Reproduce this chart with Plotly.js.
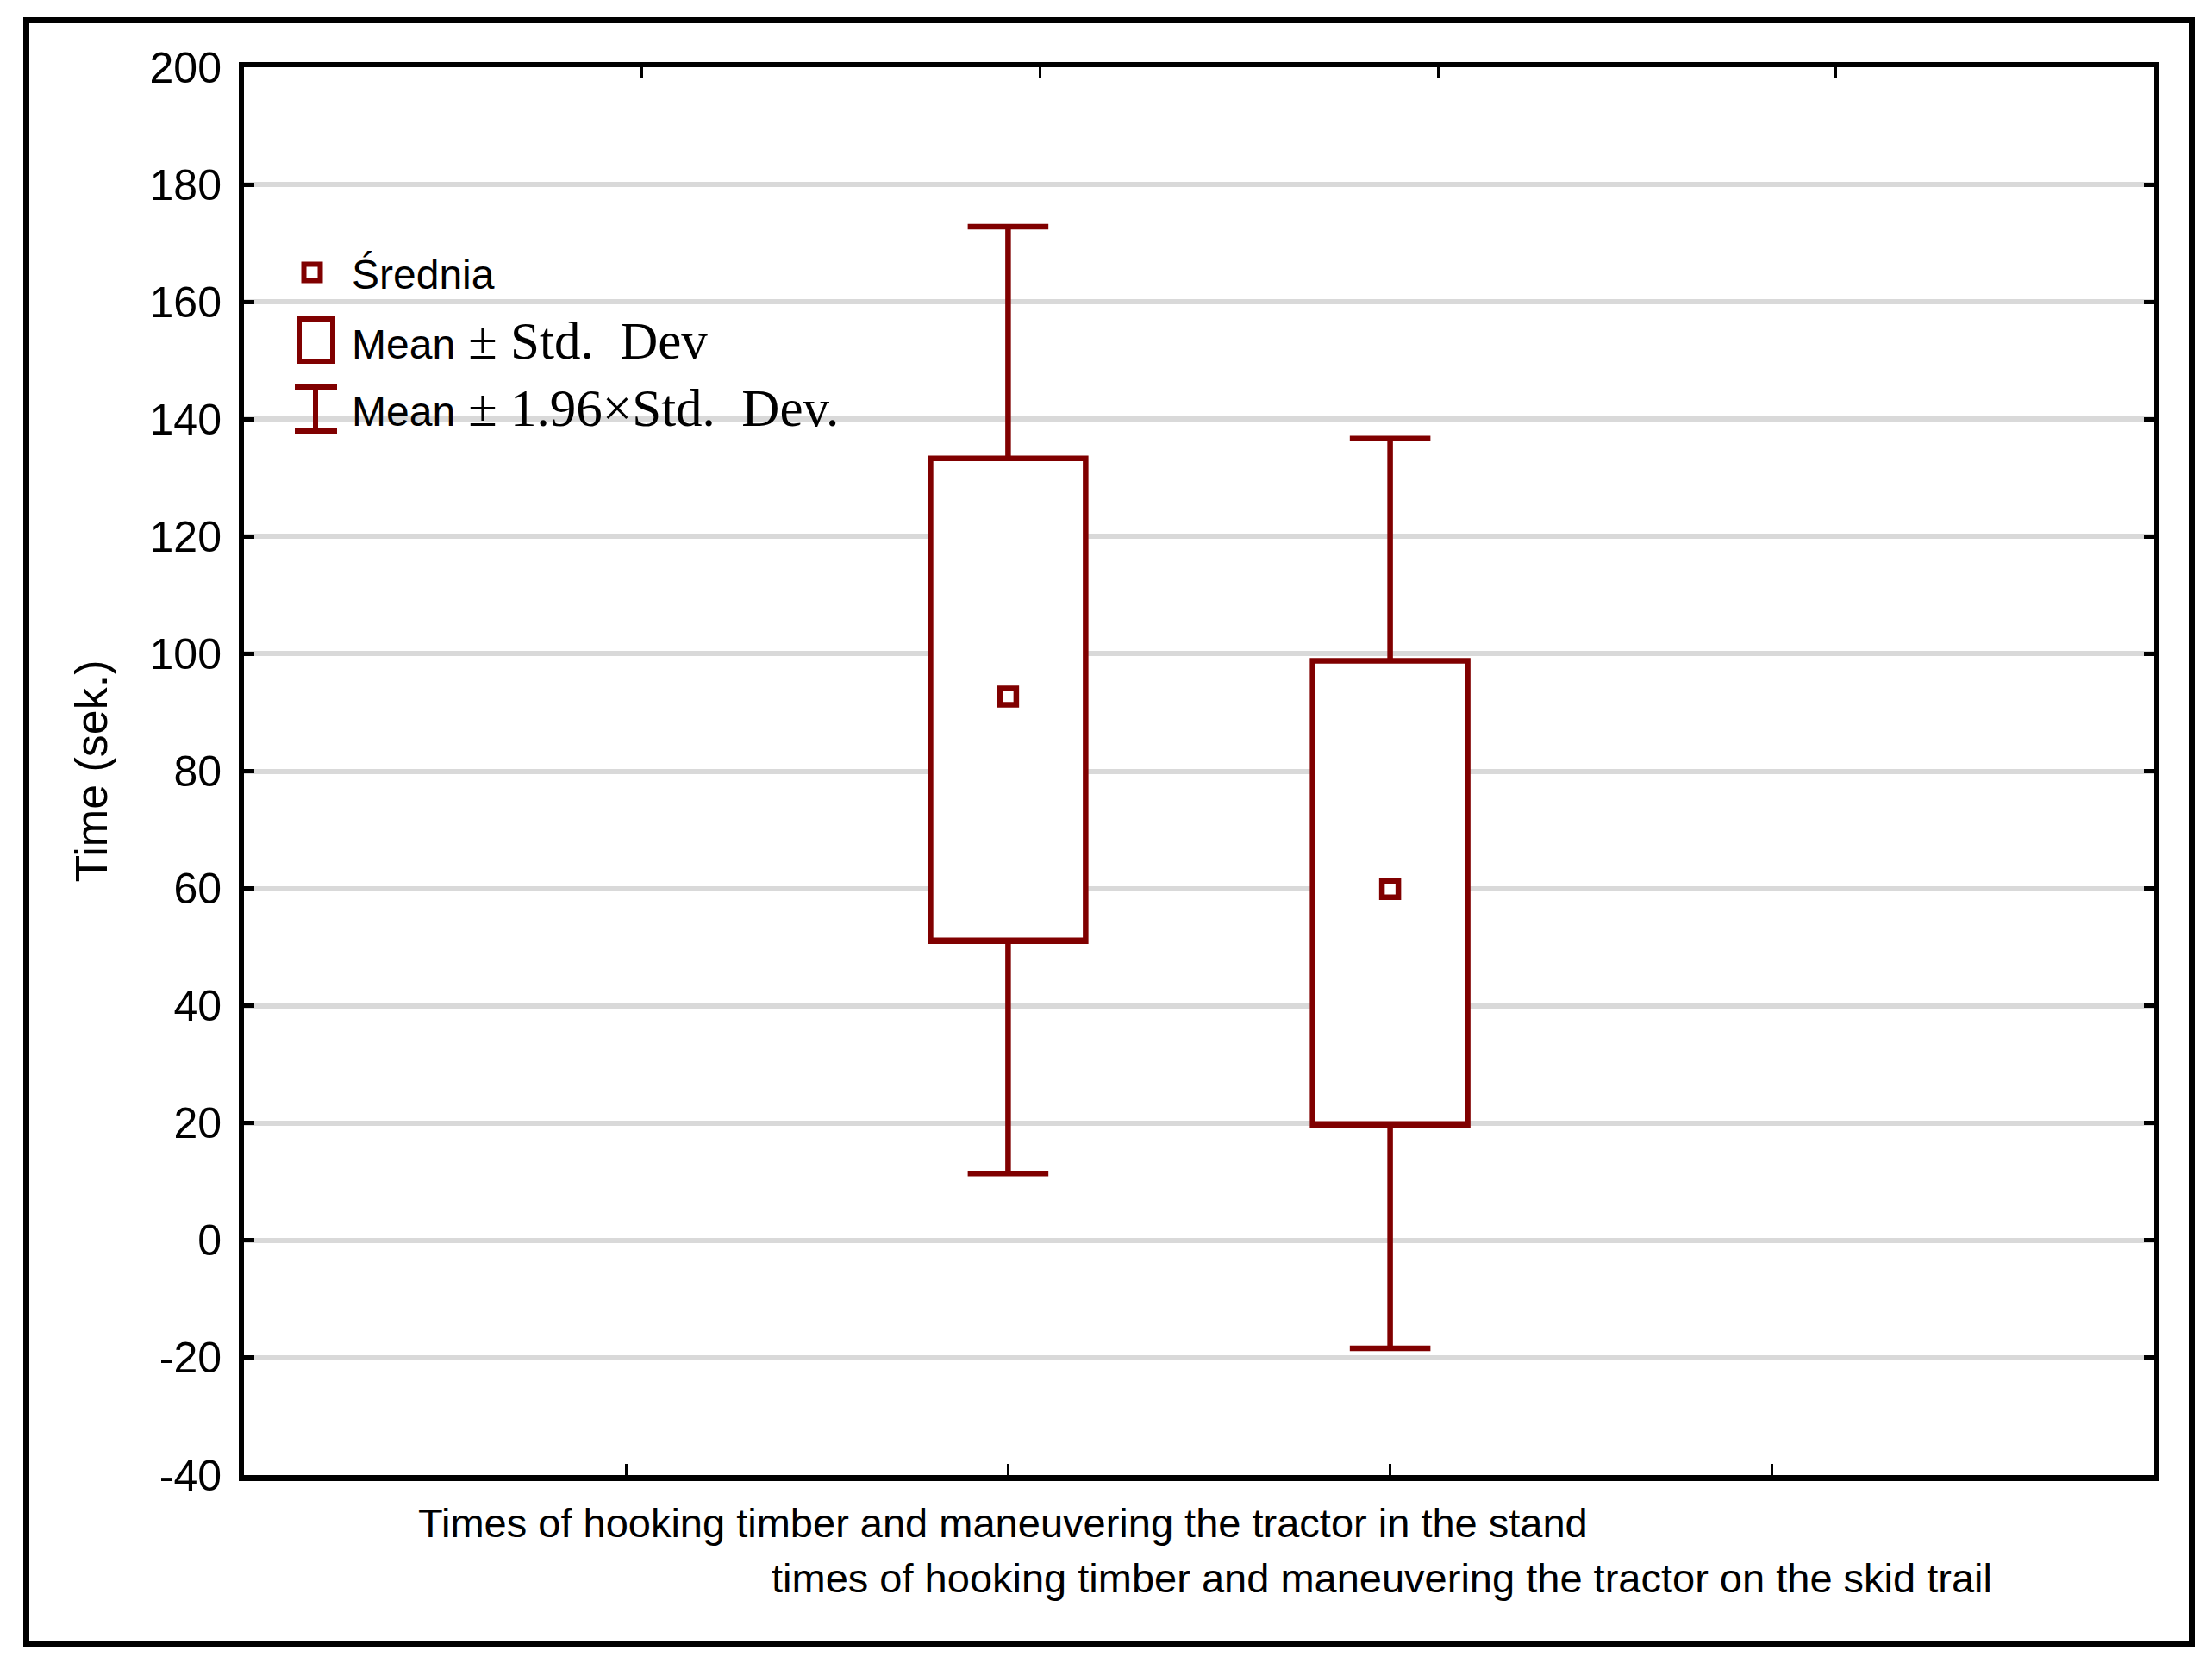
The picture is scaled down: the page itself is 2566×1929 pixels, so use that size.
<!DOCTYPE html>
<html>
<head>
<meta charset="utf-8">
<script src="https://cdn.plot.ly/plotly-3.0.1.min.js"></script>
<style>
  html, body { margin: 0; padding: 0; background: #fff; }
  #graph { width: 2566px; height: 1929px; }
</style>
</head>
<body>
<div id="graph"></div>
<script>
// values (seconds)
var catPos = [2, 3];
var catLabels = [
    "Times of hooking timber and maneuvering the tractor in the stand",
    "times of hooking timber and maneuvering the tractor on the skid trail"
];
var means = [92.7, 59.9];
var sdLow = [51.0, 19.7];     // mean - SD
var sdHigh = [133.3, 98.8];   // mean + SD
var ciLow = [11.4, -18.4];    // mean - 1.96*SD
var ciHigh = [172.8, 136.7];  // mean + 1.96*SD

var yTicks = [-40, -20, 0, 20, 40, 60, 80, 100, 120, 140, 160, 180, 200];
var yTickText = ["-40", "-20", "0", "20", "40", "60", "80", "100", "120", "140", "160", "180", "200"];

var legendNames = [
    "Średnia",
    "Mean<span style='font-family:Liberation Serif;font-size:61px'> ± Std.\u2002Dev</span>",
    "Mean<span style='font-family:Liberation Serif;font-size:61px'> ± 1.96×Std.\u2002Dev.</span>"
];

var RED = "#800000";
var SANS = "Liberation Sans, Arial, sans-serif";

function drawGraph() {
    var W = 2566, H = 1929;
    var m = {l: 283, r: 67, t: 78, b: 218};
    var pw = W - m.l - m.r, ph = H - m.t - m.b;

    // pixel -> paper helpers, only for frame and legend decoration
    function px(x) { return (x - m.l) / pw; }
    function py(y) { return (H - m.b - y) / ph; }

    var boxes = {
        type: "box",
        x: catPos,
        q1: sdLow,
        median: sdLow,
        q3: sdHigh,
        lowerfence: ciLow,
        upperfence: ciHigh,
        width: 0.406,
        whiskerwidth: 0.52,
        line: {color: RED, width: 6.5},
        fillcolor: "#ffffff",
        hoverinfo: "skip",
        showlegend: false
    };

    var meanPts = {
        type: "scatter",
        mode: "markers",
        x: catPos,
        y: means,
        marker: {symbol: "square", size: 19, color: "#ffffff", line: {color: RED, width: 6.5}},
        showlegend: false
    };

    // empty trace so the top axis (different tick spacing) gets drawn
    var topAxis = {type: "scatter", x: [], y: [], xaxis: "x2", yaxis: "y", showlegend: false};

    var shapes = [
        // outer frame
        {type: "rect", xref: "paper", yref: "paper", x0: px(30.5), x1: px(2542.5), y0: py(1906.5), y1: py(23.5),
         line: {color: "#000", width: 7}},
        // legend icons
        {type: "rect", xref: "paper", yref: "paper", x0: px(352.5), x1: px(371.5), y0: py(325.5), y1: py(306.5),
         line: {color: RED, width: 6}, fillcolor: "#fff"},
        {type: "rect", xref: "paper", yref: "paper", x0: px(347), x1: px(386), y0: py(419), y1: py(370),
         line: {color: RED, width: 6}, fillcolor: "#fff"},
        {type: "line", xref: "paper", yref: "paper", x0: px(366), x1: px(366), y0: py(500), y1: py(449),
         line: {color: RED, width: 6}},
        {type: "line", xref: "paper", yref: "paper", x0: px(342), x1: px(391), y0: py(449), y1: py(449),
         line: {color: RED, width: 6}},
        {type: "line", xref: "paper", yref: "paper", x0: px(342), x1: px(391), y0: py(500), y1: py(500),
         line: {color: RED, width: 6}}
    ];

    var annotations = [];
    var legendY = [318, 395, 474];
    for (var i = 0; i < legendNames.length; i++) {
        annotations.push({
            xref: "paper", yref: "paper", x: px(406), y: py(legendY[i]),
            xanchor: "left", yanchor: "middle", showarrow: false,
            text: legendNames[i], font: {family: SANS, size: 48, color: "#000"}
        });
    }
    var labelY = [1766, 1830];
    var labelShift = [-6, -10];
    for (var j = 0; j < catLabels.length; j++) {
        annotations.push({
            xref: "x", yref: "paper", x: catPos[j], y: py(labelY[j]), xshift: labelShift[j],
            xanchor: "center", yanchor: "middle", showarrow: false,
            text: catLabels[j], font: {family: SANS, size: 47, color: "#000"}
        });
    }

    var layout = {
        width: W, height: H,
        margin: m,
        paper_bgcolor: "#ffffff",
        plot_bgcolor: "#ffffff",
        showlegend: false,
        font: {family: SANS, color: "#000"},
        xaxis: {
            range: [0, 5],
            tickmode: "array", tickvals: [1, 2, 3, 4],
            showticklabels: false,
            ticks: "inside", ticklen: 13, tickwidth: 3, tickcolor: "#000",
            showgrid: false, zeroline: false,
            showline: true, linecolor: "#000", linewidth: 6.5, mirror: true
        },
        xaxis2: {
            overlaying: "x", side: "top", anchor: "y",
            range: [0, 4.8],
            tickmode: "array", tickvals: [1, 2, 3, 4],
            showticklabels: false,
            ticks: "inside", ticklen: 13, tickwidth: 3, tickcolor: "#000",
            showgrid: false, zeroline: false, showline: false
        },
        yaxis: {
            range: [-40, 200],
            tickmode: "array", tickvals: yTicks, ticktext: yTickText,
            tickfont: {family: SANS, size: 50, color: "#000"},
            ticks: "inside", ticklen: 12, tickwidth: 5, tickcolor: "#000",
            ticklabelstandoff: 10,
            showgrid: true, gridcolor: "#d9d9d9", gridwidth: 6,
            zeroline: false,
            showline: true, linecolor: "#000", linewidth: 6, mirror: "ticks",
            title: {text: "Time (sek.)", font: {family: SANS, size: 52, color: "#000"}, standoff: 34}
        },
        shapes: shapes,
        annotations: annotations
    };

    Plotly.newPlot("graph", [boxes, meanPts, topAxis], layout, {staticPlot: true});
}

drawGraph();
</script>
</body>
</html>
